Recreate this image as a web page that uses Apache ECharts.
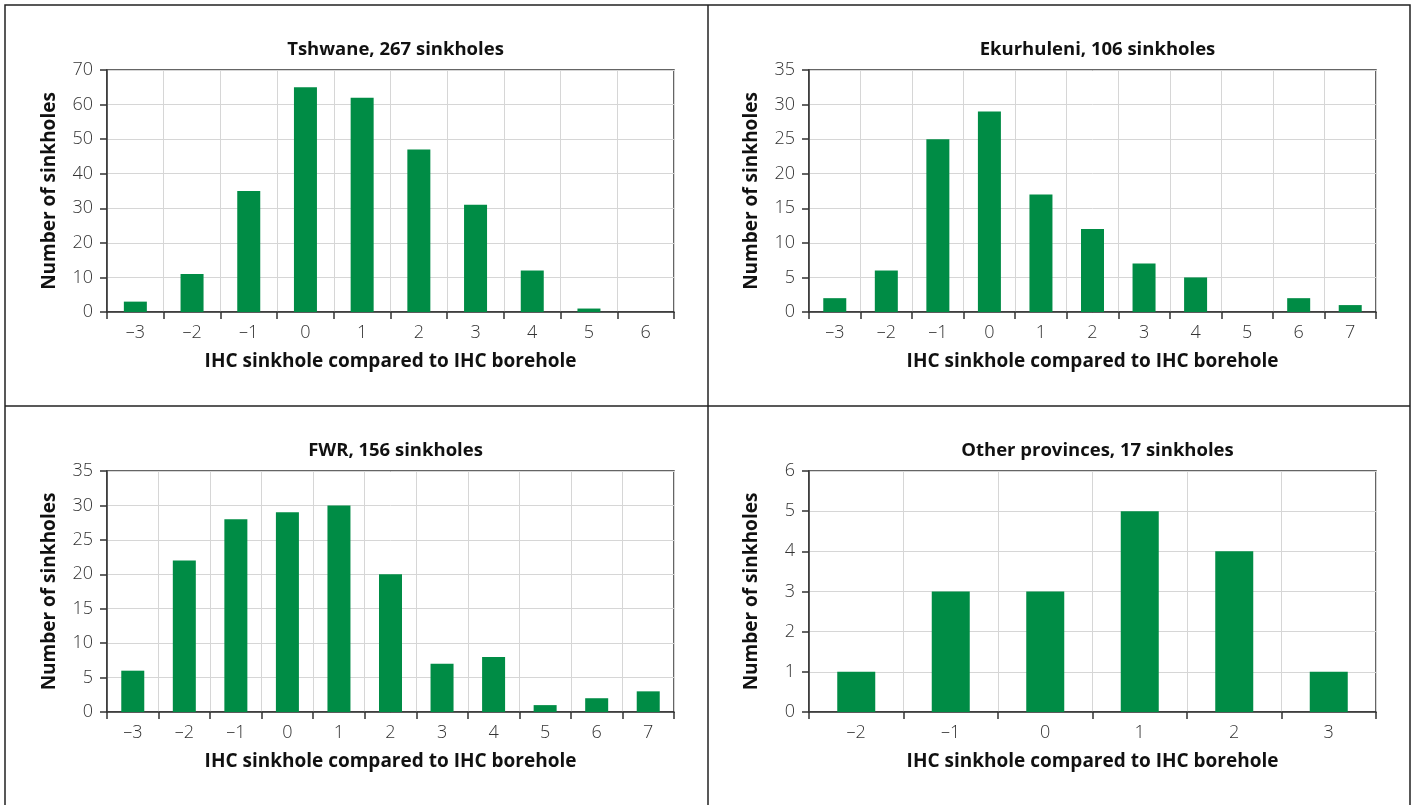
<!DOCTYPE html>
<html>
<head>
<meta charset="utf-8">
<script src="https://cdn.jsdelivr.net/npm/echarts@6/dist/echarts.min.js"></script>
<style>
html,body{margin:0;padding:0;background:#fff;}
#chart{width:1415px;height:805px;}
</style>
</head>
<body>
<div id="chart"></div>
<script>
const titles = ['Tshwane, 267 sinkholes', 'Ekurhuleni, 106 sinkholes', 'FWR, 156 sinkholes', 'Other provinces, 17 sinkholes'];
const catsTshwane = ['–3', '–2', '–1', '0', '1', '2', '3', '4', '5', '6'];
const catsEkurhuleni = ['–3', '–2', '–1', '0', '1', '2', '3', '4', '5', '6', '7'];
const catsFWR = ['–3', '–2', '–1', '0', '1', '2', '3', '4', '5', '6', '7'];
const catsOther = ['–2', '–1', '0', '1', '2', '3'];
const valsTshwane = [3, 11, 35, 65, 62, 47, 31, 12, 1, 0];
const valsEkurhuleni = [2, 6, 25, 29, 17, 12, 7, 5, 0, 2, 1];
const valsFWR = [6, 22, 28, 29, 30, 20, 7, 8, 1, 2, 3];
const valsOther = [1, 3, 3, 5, 4, 1];
const yMax = [70, 35, 35, 6];
const yStep = [10, 5, 5, 1];
const xAxisTitle = 'IHC sinkhole compared to IHC borehole';
const yAxisTitle = 'Number of sinkholes';

const cats = [catsTshwane, catsEkurhuleni, catsFWR, catsOther];
const vals = [valsTshwane, valsEkurhuleni, valsFWR, valsOther];

const GREEN = '#008c45';
const AXIS = '#333';
const GRIDC = '#d6d6d6';
const FONT = '"Open Sans", "Noto Sans", sans-serif';

const grids = [
  {left: 107, top: 70, width: 567, height: 242},
  {left: 809, top: 70, width: 567, height: 242},
  {left: 107, top: 471, width: 567, height: 241},
  {left: 809, top: 471, width: 567, height: 241}
];
const barW = [23, 23, 23, 38];

const option = {
  animation: false,
  backgroundColor: '#fff',
  title: grids.map((g, i) => ({
    text: titles[i],
    left: g.left + g.width / 2,
    top: g.top - 35,
    textAlign: 'center',
    textStyle: {fontFamily: FONT, fontWeight: 'bold', fontSize: 18.5, color: '#111'}
  })),
  grid: grids.map(g => Object.assign({show: true, borderColor: AXIS, borderWidth: 1.5, backgroundColor: 'transparent'}, g)),
  xAxis: cats.map((c, i) => ({
    type: 'category',
    gridIndex: i,
    data: c,
    boundaryGap: true,
    name: xAxisTitle,
    nameLocation: 'middle',
    nameGap: 40,
    nameTextStyle: {fontFamily: FONT, fontWeight: 'bold', fontSize: 19, color: '#111'},
    axisLine: {show: true, lineStyle: {color: AXIS, width: 1.5}},
    axisTick: {show: true, length: 7, inside: false, lineStyle: {color: AXIS, width: 1.5}},
    axisLabel: {fontFamily: FONT, fontWeight: 300, fontSize: 18, color: '#333', margin: 12},
    splitLine: {show: true, lineStyle: {color: GRIDC, width: 1}}
  })),
  yAxis: yMax.map((m, i) => ({
    type: 'value',
    gridIndex: i,
    min: 0,
    max: m,
    interval: yStep[i],
    name: yAxisTitle,
    nameLocation: 'middle',
    nameGap: 48,
    nameTextStyle: {fontFamily: FONT, fontWeight: 'bold', fontSize: 19, color: '#111'},
    axisLine: {show: true, lineStyle: {color: AXIS, width: 1.5}},
    axisTick: {show: true, length: 7, inside: false, lineStyle: {color: AXIS, width: 1.5}},
    axisLabel: {fontFamily: FONT, fontWeight: 300, fontSize: 18, color: '#333', margin: 14},
    splitLine: {show: true, lineStyle: {color: GRIDC, width: 1}}
  })),
  series: vals.map((v, i) => ({
    type: 'bar',
    xAxisIndex: i,
    yAxisIndex: i,
    data: v,
    barWidth: barW[i],
    itemStyle: {color: GREEN},
    z: 3
  })),
  graphic: [
    {type: 'rect', shape: {x: 5, y: 5, width: 1405, height: 810}, style: {fill: 'none', stroke: '#222', lineWidth: 1.5}, silent: true},
    {type: 'line', shape: {x1: 708, y1: 5, x2: 708, y2: 810}, style: {stroke: '#222', lineWidth: 1.5}, silent: true},
    {type: 'line', shape: {x1: 5, y1: 406, x2: 1410, y2: 406}, style: {stroke: '#222', lineWidth: 1.5}, silent: true}
  ]
};

const chart = echarts.init(document.getElementById('chart'), null, {renderer: 'canvas'});
chart.setOption(option);
</script>
</body>
</html>
